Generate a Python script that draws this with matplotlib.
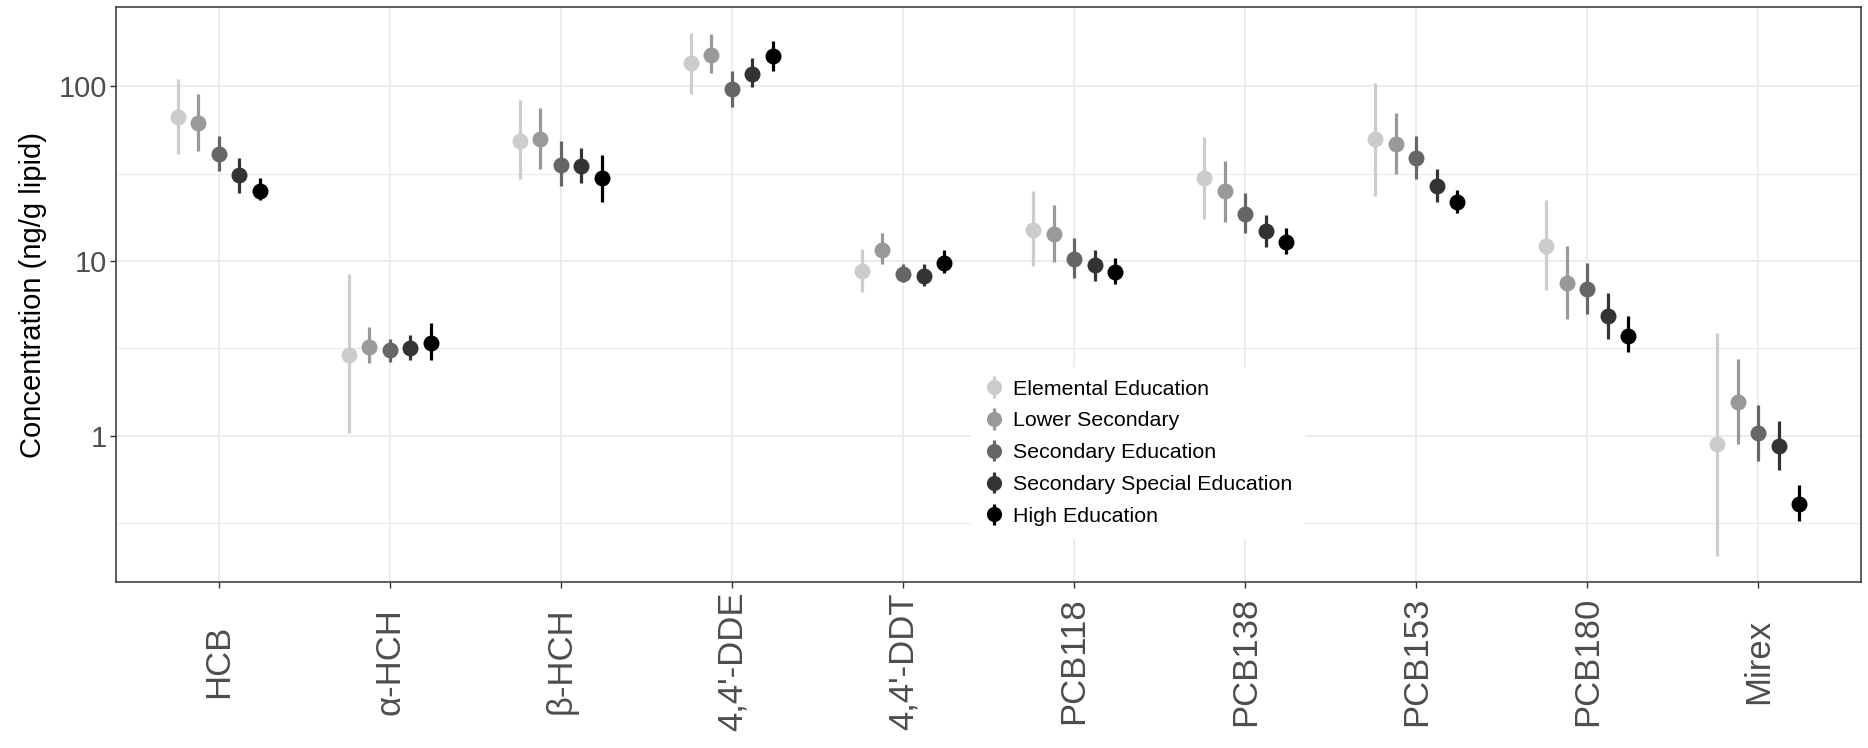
import numpy as np
import matplotlib
matplotlib.use("Agg")
import matplotlib.pyplot as plt
from matplotlib.ticker import FixedLocator, NullFormatter

compounds = ["HCB", "α-HCH", "β-HCH", "4,4'-DDE", "4,4'-DDT",
             "PCB118", "PCB138", "PCB153", "PCB180", "Mirex"]
groups = ["Elemental Education", "Lower Secondary", "Secondary Education",
          "Secondary Special Education", "High Education"]

# central estimate and interval (lower, upper) per education group, ng/g lipid
elemental_mid = [66.6, 2.91, 48.9, 136, 8.82, 15.0, 29.8, 49.6, 12.2, 0.895]
elemental_lo = [40.7, 1.04, 29.5, 90.8, 6.68, 9.42, 17.5, 23.7, 6.82, 0.206]
elemental_hi = [110, 8.38, 83.8, 201, 11.7, 25.1, 51.4, 104.6, 22.4, 3.9]

lower_mid = [61.6, 3.24, 49.6, 151, 11.5, 14.3, 25.1, 46.5, 7.53, 1.57]
lower_lo = [42.8, 2.61, 33.5, 119, 9.56, 9.9, 16.8, 31.3, 4.67, 0.904]
lower_hi = [90.8, 4.18, 75.4, 198, 14.4, 20.8, 37.1, 70.0, 12.2, 2.74]

secondary_mid = [41.0, 3.08, 35.4, 96.5, 8.47, 10.3, 18.7, 38.8, 6.88, 1.04]
secondary_lo = [32.8, 2.64, 27.0, 75.8, 7.62, 7.98, 14.5, 29.5, 5.01, 0.718]
secondary_hi = [52.2, 3.58, 48.4, 122, 9.6, 13.6, 24.5, 52.0, 9.7, 1.51]

special_mid = [30.9, 3.19, 34.9, 118, 8.22, 9.46, 14.8, 26.7, 4.82, 0.881]
special_lo = [24.6, 2.71, 28.1, 99, 7.21, 7.7, 12.1, 21.7, 3.60, 0.635]
special_hi = [38.6, 3.76, 44.2, 144, 9.56, 11.6, 18.4, 33.7, 6.55, 1.22]

high_mid = [25.3, 3.40, 29.7, 148, 9.80, 8.64, 12.9, 21.9, 3.74, 0.408]
high_lo = [22.2, 2.70, 21.8, 122, 8.55, 7.4, 11.0, 18.8, 3.0, 0.327]
high_hi = [30.0, 4.42, 40.4, 181, 11.6, 10.4, 15.4, 25.4, 4.82, 0.527]

y_ticks = [1, 10, 100]
y_tick_labels = ["1", "10", "100"]

series = [
    (elemental_mid, elemental_lo, elemental_hi),
    (lower_mid, lower_lo, lower_hi),
    (secondary_mid, secondary_lo, secondary_hi),
    (special_mid, special_lo, special_hi),
    (high_mid, high_lo, high_hi),
]
colors = ["#CCCCCC", "#999999", "#666666", "#333333", "#000000"]

plt.rcParams["font.family"] = ["Liberation Sans", "DejaVu Sans"]

fig = plt.figure(figsize=(18.68, 7.48), dpi=100)
ax = fig.add_axes([0.0621, 0.2219, 0.9963 - 0.0621, 0.9906 - 0.2219])

x = np.arange(1, len(compounds) + 1)
dodge = 0.12
n = len(groups)
for i, ((mid, lo, hi), name, col) in enumerate(zip(series, groups, colors)):
    mid = np.asarray(mid)
    lo = np.asarray(lo)
    hi = np.asarray(hi)
    xpos = x + (i - (n - 1) / 2) * dodge
    ax.errorbar(xpos, mid, yerr=[mid - lo, hi - mid], fmt="o", color=col,
                ecolor=col, elinewidth=2.3, capsize=0, markersize=11.5,
                markeredgewidth=0, label=name, zorder=3)

ax.set_yscale("log")
all_lo = np.concatenate([np.asarray(s[1]) for s in series])
all_hi = np.concatenate([np.asarray(s[2]) for s in series])
lmin, lmax = np.log10(all_lo.min()), np.log10(all_hi.max())
pad = 0.05 * (lmax - lmin)
ax.set_ylim(10 ** (lmin - pad), 10 ** (lmax + pad))
ax.set_xlim(0.4, len(compounds) + 0.6)

ax.yaxis.set_major_locator(FixedLocator(y_ticks))
ax.set_yticklabels(y_tick_labels)
ax.yaxis.set_minor_locator(FixedLocator([10 ** -0.5, 10 ** 0.5, 10 ** 1.5, 10 ** 2.5]))
ax.yaxis.set_minor_formatter(NullFormatter())
ax.set_xticks(x)
ax.set_xticklabels(compounds, rotation=90, va="top", ha="center")

grid_col = "#EBEBEB"
ax.grid(True, which="major", color=grid_col, linewidth=1.3, zorder=0)
ax.grid(True, which="minor", axis="y", color=grid_col, linewidth=0.8, zorder=0)
ax.set_axisbelow(True)

ax.tick_params(axis="both", which="major", length=4.5, width=1.0,
               color="#333333", labelcolor="#4D4D4D")
ax.tick_params(axis="y", labelsize=21, pad=2)
ax.tick_params(axis="x", labelsize=25, pad=4)
ax.tick_params(axis="y", which="minor", length=0)
for sp in ax.spines.values():
    sp.set_color("#333333")
    sp.set_linewidth(1.1)

ax.set_ylabel("Concentration (ng/g lipid)", fontsize=21, color="black", labelpad=8)

# center rotated tick labels around a common line below the axis
fig.canvas.draw()
for lbl in ax.get_xticklabels():
    lbl.set_verticalalignment("center")
    lbl.set_y(-0.117)

leg = ax.legend(loc="upper left", bbox_to_anchor=(0.484, 0.393), fontsize=15.4,
                frameon=True, framealpha=1.0, facecolor="white", edgecolor="none",
                fancybox=False, handlelength=0.9, handletextpad=0.45,
                labelspacing=0.6, borderpad=0.6, markerscale=0.95)

fig.savefig("out.png", dpi=100, facecolor="white")
